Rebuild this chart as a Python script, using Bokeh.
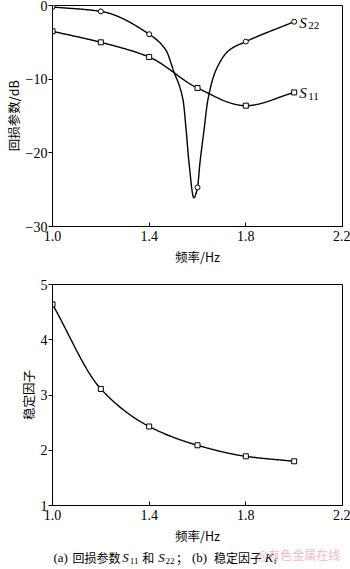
import numpy as np
from bokeh.plotting import figure
from bokeh.layouts import column
from bokeh.models import FixedTicker, NumeralTickFormatter
from bokeh.core.properties import value
from bokeh.embed import file_html
from bokeh.resources import INLINE

# ---- data ----
freq = [1.0, 1.2, 1.4, 1.6, 1.8, 2.0]
s22 = [-0.2, -0.8, -3.9, -24.7, -4.9, -2.2]
s11 = [-3.5, -5.0, -7.0, -11.2, -13.6, -11.8]
kf = [4.64, 3.11, 2.43, 2.09, 1.89, 1.80]
# extra points traced along the S22 resonance dip
s22_trace_x = [1.47, 1.50, 1.54, 1.553, 1.565, 1.585, 1.61, 1.627, 1.643, 1.676, 1.73]
s22_trace_y = [-6.1, -8.8, -12.8, -16.9, -21.4, -26.1, -21.4, -16.9, -12.8, -8.8, -6.1]

x_ticks = [1.0, 1.4, 1.8, 2.2]
y1_ticks = [-30, -20, -10, 0]
y2_ticks = [1, 2, 3, 4, 5]

SERIF = "Liberation Serif"
CJK = "Noto Sans CJK SC"
LEFT = 51
RIGHT = 8


def pchip(x, y, n=400):
    x = np.asarray(x, float); y = np.asarray(y, float)
    h = np.diff(x); d = np.diff(y) / h
    m = np.zeros_like(y)
    for k in range(1, len(x) - 1):
        if d[k - 1] * d[k] > 0:
            w1 = 2 * h[k] + h[k - 1]; w2 = h[k] + 2 * h[k - 1]
            m[k] = (w1 + w2) / (w1 / d[k - 1] + w2 / d[k])
    m[0] = d[0]; m[-1] = d[-1]
    xs = np.linspace(x[0], x[-1], n)
    idx = np.clip(np.searchsorted(x, xs) - 1, 0, len(x) - 2)
    t = (xs - x[idx]) / h[idx]
    h00 = 2 * t**3 - 3 * t**2 + 1; h10 = t**3 - 2 * t**2 + t
    h01 = -2 * t**3 + 3 * t**2; h11 = t**3 - t**2
    ys = h00 * y[idx] + h10 * h[idx] * m[idx] + h01 * y[idx + 1] + h11 * h[idx] * m[idx + 1]
    return xs, ys


def style(p, yticks, ylabel):
    p.outline_line_color = "black"
    p.outline_line_width = 1
    p.grid.visible = False
    p.xaxis.ticker = FixedTicker(ticks=x_ticks)
    p.xaxis.formatter = NumeralTickFormatter(format="0.0")
    p.yaxis.ticker = FixedTicker(ticks=yticks)
    p.yaxis.major_label_overrides = {v: (str(v).replace("-", "\u2212")) for v in yticks}
    for ax in (p.xaxis[0], p.yaxis[0]):
        ax.axis_line_color = "black"
        ax.major_tick_line_color = "black"
        ax.minor_tick_line_color = None
        ax.major_label_text_font = SERIF
        ax.major_label_text_font_size = "14px"
        ax.major_label_text_color = "black"
        ax.axis_label_text_font = CJK
        ax.axis_label_text_font_style = "normal"
        ax.axis_label_text_font_size = "12.5px"
        ax.axis_label_text_color = "black"
    p.xaxis.major_tick_in = 4
    p.xaxis.major_tick_out = 0
    p.yaxis.major_tick_in = 0
    p.yaxis.major_tick_out = 4
    p.xaxis.major_label_standoff = 4
    p.yaxis.major_label_standoff = 1
    p.xaxis.axis_label = "频率/Hz"
    p.xaxis.axis_label_standoff = 3
    p.yaxis.axis_label = ylabel
    p.yaxis.axis_label_standoff = 0


# ---- top figure ----
p1 = figure(width=350, height=268, x_range=(1.0, 2.2), y_range=(-30, 0),
            output_backend="svg", toolbar_location=None,
            min_border_left=LEFT, min_border_right=RIGHT, min_border_top=5, min_border_bottom=41)
style(p1, y1_ticks, "回损参数/dB")

x22 = sorted(freq + s22_trace_x)
y22 = [dict(zip(freq + s22_trace_x, s22 + s22_trace_y))[v] for v in x22]
cx, cy = pchip(x22, y22, 800)
p1.line(cx, cy, line_color="black", line_width=1.4)
cx, cy = pchip(freq, s11)
p1.line(cx, cy, line_color="black", line_width=1.4)
p1.scatter(freq, s22, marker="circle", size=5, fill_color="white", line_color="black", line_width=1)
p1.scatter(freq, s11, marker="square", size=5, fill_color="white", line_color="black", line_width=1)

end_y = [s22[-1], s11[-1]]
p1.text(x=[freq[-1]] * 2, y=end_y, text=["S", "S"], x_offset=5, y_offset=1,
        text_font=value(SERIF), text_font_style="italic", text_font_size="15px",
        text_baseline="middle", text_color="black")
p1.text(x=[freq[-1]] * 2, y=end_y, text=["22", "11"], x_offset=14, y_offset=4,
        text_font=value(SERIF), text_font_size="11px",
        text_baseline="middle", text_color="black")

# ---- bottom figure ----
p2 = figure(width=350, height=279, x_range=(1.0, 2.2), y_range=(1, 5),
            output_backend="svg", toolbar_location=None,
            min_border_left=LEFT, min_border_right=RIGHT, min_border_top=16, min_border_bottom=40)
style(p2, y2_ticks, "稳定因子")
cx, cy = pchip(freq, kf)
p2.line(cx, cy, line_color="black", line_width=1.4)
p2.scatter(freq, kf, marker="square", size=5, fill_color="white", line_color="black", line_width=1)

# ---- caption strip (data units = page pixels) ----
p3 = figure(width=350, height=22, x_range=(LEFT, 350 - RIGHT), y_range=(0, 22),
            output_backend="svg", toolbar_location=None,
            min_border_left=LEFT, min_border_right=RIGHT, min_border_top=0, min_border_bottom=0)
p3.axis.visible = False
p3.grid.visible = False
p3.outline_line_color = None

cap_serif_x = [52, 191]
cap_serif_t = ["(a)", "(b)"]
cap_cjk_x = [71, 141, 175, 213]
cap_cjk_t = ["回损参数", "和", "；", "稳定因子"]
cap_ital_x = [121, 157, 264]
cap_ital_t = ["S", "S", "K"]
cap_sub_x = [128.5, 164.5, 273]
cap_sub_t = ["11", "22", "f"]
CAP_Y = 12
p3.text(x=cap_serif_x, y=[CAP_Y] * 2, text=cap_serif_t, text_font=value(SERIF),
        text_font_size="13px", text_baseline="middle", text_color="black")
p3.text(x=cap_cjk_x, y=[CAP_Y] * 4, text=cap_cjk_t, text_font=value(CJK),
        text_font_size="12px", text_baseline="middle", text_color="black")
p3.text(x=cap_ital_x, y=[CAP_Y] * 3, text=cap_ital_t, text_font=value(SERIF),
        text_font_style="italic", text_font_size="13px", text_baseline="middle", text_color="black")
p3.text(x=cap_sub_x, y=[CAP_Y - 3] * 3, text=cap_sub_t, text_font=value(SERIF),
        text_font_size="9px", text_baseline="middle", text_color="black")
p3.text(x=[256], y=[15], text=["@有色金属在线"], text_font=value(CJK),
        text_font_size="12px", text_baseline="middle", text_color="#f2a0a8", text_alpha=0.75)

layout = column(p1, p2, p3, spacing=0)
open("out.html", "w").write(file_html(layout, INLINE))
